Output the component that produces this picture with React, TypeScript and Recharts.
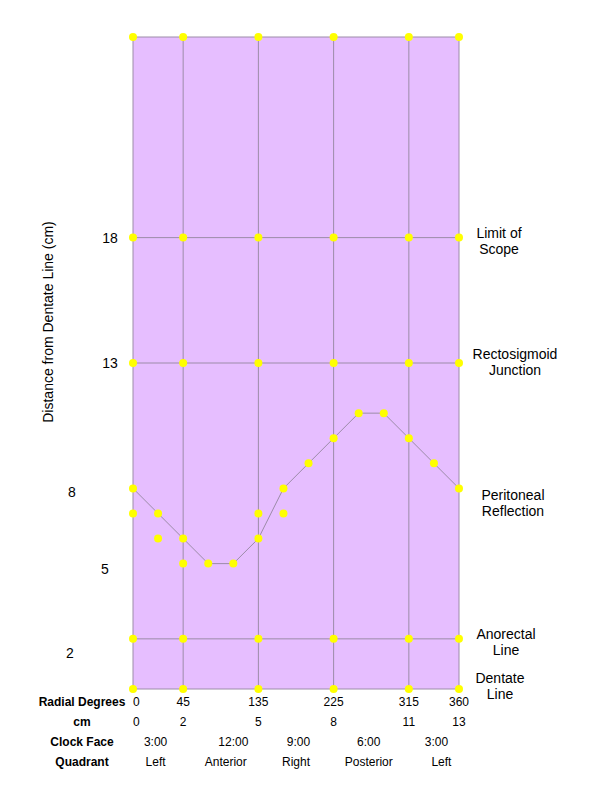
import React from 'react';
import {
  ComposedChart,
  XAxis,
  YAxis,
  Scatter,
  ReferenceArea,
  ReferenceLine,
  Label,
} from 'recharts';

// x positions in cm along the circumference, y = distance from dentate line (cm)
const cmTicks = [0, 2, 5, 8, 11, 13];
const degreeLabels = ['0', '45', '135', '225', '315', '360'];
const cmLabels = ['0', '2', '5', '8', '11', '13'];
const clockTicks = [0.9, 4, 6.6, 9.4, 12.1];
const clockLabels = ['3:00', '12:00', '9:00', '6:00', '3:00'];
const quadrantTicks = [0.9, 3.7, 6.5, 9.4, 12.3];
const quadrantLabels = ['Left', 'Anterior', 'Right', 'Posterior', 'Left'];

const distanceTicks = [18, 13, 8, 5, 2];
const landmarkTicks = [18, 13, 8, 2, 0];
const landmarkLabels = [
  ['Limit of', 'Scope'],
  ['Rectosigmoid', 'Junction'],
  ['Peritoneal', 'Reflection'],
  ['Anorectal', 'Line'],
  ['Dentate', 'Line'],
];
const gridLevels = [0, 2, 13, 18, 26];

const curveX = [0, 1, 2, 3, 4, 5, 6, 7, 8, 9, 10, 11, 12, 13];
const curveY = [8, 7, 6, 5, 5, 6, 8, 9, 10, 11, 11, 10, 9, 8];
const extraX = [0, 1, 2, 5, 6];
const extraY = [7, 6, 5, 7, 7];

const curveData = curveX.map((x, i) => ({ x, y: curveY[i] }));
const extraData = extraX.map((x, i) => ({ x, y: extraY[i] }));
const gridData = cmTicks.flatMap((x) => gridLevels.map((y) => ({ x, y })));

const FONT = '"Liberation Sans", Arial, sans-serif';
const LINE = '#9C8CA8';
const FILL = '#E6BEFF';
const DOT = '#FFFF00';

// hand placement of the left-hand numbers (they sit loosely next to the axis)
const leftLayout: Record<number, { cx: number; dy: number }> = {
  18: { cx: 110, dy: 0 },
  13: { cx: 110, dy: 0 },
  8: { cx: 72, dy: 4 },
  5: { cx: 105, dy: 5 },
  2: { cx: 70, dy: 14 },
};
const rightLayout: Record<number, { cx: number; dy: number }> = {
  18: { cx: 499, dy: 3 },
  13: { cx: 515, dy: -1 },
  8: { cx: 513, dy: 15 },
  2: { cx: 506, dy: 3 },
  0: { cx: 500, dy: -3 },
};

const Dot = (props: any) => <circle cx={props.cx} cy={props.cy} r={4} fill={DOT} />;
// invisible series only there so the extra label axes get drawn
const Nothing = () => <g />;

const makeRowTick = (ticks: number[], labels: string[], rowName: string) => (props: any) => {
  const { x, y, payload } = props;
  const i = ticks.indexOf(payload.value);
  return (
    <g>
      {i === 0 && (
        <text x={82} y={y} dy="0.71em" textAnchor="middle" fontSize={12} fontWeight="bold" fontFamily={FONT} fill="#000">
          {rowName}
        </text>
      )}
      <text
        x={x}
        y={y}
        dy="0.71em"
        textAnchor={payload.value === 0 ? 'start' : 'middle'}
        fontSize={12}
        fontFamily={FONT}
        fill="#000"
      >
        {labels[i]}
      </text>
    </g>
  );
};

const LeftTick = (props: any) => {
  const { y, payload } = props;
  const l = leftLayout[payload.value];
  return (
    <text x={l.cx} y={y + l.dy} dy="0.35em" textAnchor="middle" fontSize={14} fontFamily={FONT} fill="#000">
      {payload.value}
    </text>
  );
};

const RightTick = (props: any) => {
  const { y, payload } = props;
  const i = landmarkTicks.indexOf(payload.value);
  const l = rightLayout[payload.value];
  const [a, b] = landmarkLabels[i];
  return (
    <g>
      <text x={l.cx} y={y + l.dy - 8} dy="0.35em" textAnchor="middle" fontSize={14} fontFamily={FONT} fill="#000">
        {a}
      </text>
      <text x={l.cx} y={y + l.dy + 8} dy="0.35em" textAnchor="middle" fontSize={14} fontFamily={FONT} fill="#000">
        {b}
      </text>
    </g>
  );
};

const AxisTitle = () => (
  <text
    x={48}
    y={322}
    dy="0.35em"
    textAnchor="middle"
    transform="rotate(-90, 48, 322)"
    fontSize={14}
    fontFamily={FONT}
    fill="#000"
  >
    Distance from Dentate Line (cm)
  </text>
);

export default function App() {
  return (
    <div style={{ position: 'absolute', left: 0, top: 0, width: 600, height: 801, background: '#fff', fontFamily: FONT }}>
      <ComposedChart width={600} height={801} margin={{ top: 37, right: 0, bottom: 32, left: 0 }}>
        <XAxis
          xAxisId={0}
          dataKey="x"
          type="number"
          domain={[0, 13]}
          ticks={cmTicks}
          interval={0}
          axisLine={false}
          tickLine={false}
          height={20}
          tick={makeRowTick(cmTicks, degreeLabels, 'Radial Degrees')}
        />
        <XAxis
          xAxisId="row1"
          dataKey="x"
          type="number"
          domain={[0, 13]}
          ticks={cmTicks}
          interval={0}
          axisLine={false}
          tickLine={false}
          height={20}
          tick={makeRowTick(cmTicks, cmLabels, 'cm')}
        />
        <XAxis
          xAxisId="row2"
          dataKey="x"
          type="number"
          domain={[0, 13]}
          ticks={clockTicks}
          interval={0}
          axisLine={false}
          tickLine={false}
          height={20}
          tick={makeRowTick(clockTicks, clockLabels, 'Clock Face')}
        />
        <XAxis
          xAxisId="row3"
          dataKey="x"
          type="number"
          domain={[0, 13]}
          ticks={quadrantTicks}
          interval={0}
          axisLine={false}
          tickLine={false}
          height={20}
          tick={makeRowTick(quadrantTicks, quadrantLabels, 'Quadrant')}
        />
        <YAxis
          yAxisId={0}
          dataKey="y"
          type="number"
          domain={[0, 26]}
          ticks={distanceTicks}
          interval={0}
          axisLine={false}
          tickLine={false}
          width={133}
          tick={LeftTick}
        >
          <Label content={<AxisTitle />} />
        </YAxis>
        <YAxis
          yAxisId="landmark"
          orientation="right"
          dataKey="y"
          type="number"
          domain={[0, 26]}
          ticks={landmarkTicks}
          interval={0}
          axisLine={false}
          tickLine={false}
          width={141}
          tick={RightTick}
        />

        <ReferenceArea x1={0} x2={13} y1={0} y2={26} fill={FILL} fillOpacity={1} stroke="none" />
        {cmTicks.map((x) => (
          <ReferenceLine key={`v-${x}`} x={x} stroke={LINE} strokeWidth={1} />
        ))}
        {gridLevels.map((y) => (
          <ReferenceLine key={`h-${y}`} y={y} stroke={LINE} strokeWidth={1} />
        ))}

        <Scatter data={gridData} xAxisId="row1" shape={Nothing} isAnimationActive={false} />
        <Scatter data={gridData} xAxisId="row2" shape={Nothing} isAnimationActive={false} />
        <Scatter data={gridData} xAxisId="row3" shape={Nothing} isAnimationActive={false} />
        <Scatter data={gridData} yAxisId="landmark" shape={Nothing} isAnimationActive={false} />

        <Scatter data={gridData} shape={Dot} isAnimationActive={false} />
        <Scatter data={extraData} shape={Dot} isAnimationActive={false} />
        <Scatter
          data={curveData}
          shape={Dot}
          line={{ stroke: LINE, strokeWidth: 1 }}
          isAnimationActive={false}
        />
      </ComposedChart>
    </div>
  );
}
